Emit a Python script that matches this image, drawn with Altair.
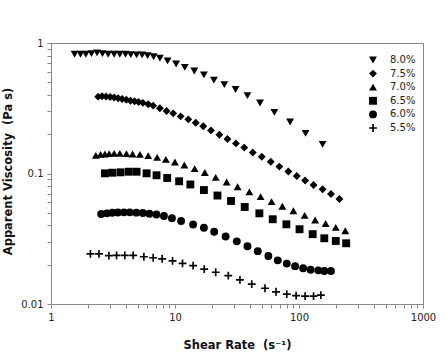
import altair as alt
import pandas as pd

# Polymer concentration series (legend order)
concentrations = ["8.0%", "7.5%", "7.0%", "6.5%", "6.0%", "5.5%"]

# Shear rate (1/s) and apparent viscosity (Pa s) for each concentration
shear_80 = [1.55, 1.73, 1.91, 2.12, 2.35, 2.60, 2.89, 3.23, 3.59, 3.99, 4.40, 4.90, 5.43, 6.01,
            6.72, 7.55, 8.71, 10.2, 12.0, 14.3, 17.1, 20.6, 25.0, 30.8, 38.4, 48.5, 63.3, 84.8,
            113, 155]
visc_80 = [0.82, 0.82, 0.82, 0.83, 0.84, 0.83, 0.82, 0.82, 0.82, 0.82, 0.815, 0.81, 0.81, 0.80,
           0.785, 0.765, 0.73, 0.69, 0.65, 0.61, 0.57, 0.52, 0.48, 0.44, 0.395, 0.347, 0.294,
           0.248, 0.203, 0.167]

shear_75 = [2.40, 2.58, 2.78, 3.00, 3.23, 3.48, 3.75, 4.05, 4.38, 4.72, 5.08, 5.50, 6.08, 6.67,
            7.55, 8.55, 9.67, 11.1, 12.8, 14.7, 16.9, 19.5, 22.8, 26.5, 31.0, 36.2, 42.4, 50.1,
            59.2, 69.4, 82.1, 96.0, 112, 131, 155, 181, 212]
visc_75 = [0.388, 0.391, 0.389, 0.386, 0.382, 0.377, 0.372, 0.367, 0.361, 0.358, 0.353, 0.348,
           0.339, 0.331, 0.316, 0.301, 0.289, 0.274, 0.260, 0.245, 0.230, 0.214, 0.198, 0.184,
           0.170, 0.158, 0.145, 0.1345, 0.123, 0.113, 0.1036, 0.0957, 0.0884, 0.0817, 0.0757,
           0.0697, 0.0638]

shear_70 = [2.30, 2.51, 2.72, 2.94, 3.23, 3.59, 4.06, 4.55, 5.21, 6.08, 7.18, 8.44, 9.98, 11.9,
            14.4, 17.4, 21.3, 26.1, 32.0, 39.8, 49.0, 60.1, 73.4, 90.1, 111, 135, 164, 198, 236]
visc_70 = [0.1378, 0.1403, 0.1410, 0.1418, 0.1428, 0.1428, 0.1418, 0.1410, 0.1403, 0.1369,
           0.1331, 0.1285, 0.1225, 0.1162, 0.1089, 0.1018, 0.0935, 0.0861, 0.0792, 0.0722,
           0.0664, 0.0608, 0.0561, 0.0518, 0.0477, 0.0440, 0.0414, 0.0386, 0.0364]

shear_65 = [2.72, 3.13, 3.64, 4.24, 4.90, 5.90, 7.10, 8.65, 10.8, 13.3, 17.1, 22.0, 28.3, 36.5,
            47.9, 61.4, 79.1, 101, 129, 160, 198, 240]
visc_65 = [0.1003, 0.1014, 0.1021, 0.1032, 0.1032, 0.1003, 0.0969, 0.0924, 0.0872, 0.0824,
           0.0747, 0.0678, 0.0616, 0.0554, 0.0495, 0.0446, 0.0408, 0.0374, 0.0343, 0.0319,
           0.0304, 0.0292]

shear_60 = [2.54, 2.82, 3.12, 3.46, 3.87, 4.32, 4.88, 5.50, 6.21, 7.08, 8.14, 9.44, 11.2, 14.0,
            17.1, 20.7, 25.6, 31.5, 38.4, 46.5, 56.6, 67.4, 79.7, 93.0, 108, 124, 143, 160, 181]
visc_60 = [0.0489, 0.0495, 0.0500, 0.0502, 0.0504, 0.0504, 0.0501, 0.0498, 0.0492, 0.0485,
           0.0472, 0.0454, 0.0433, 0.0407, 0.0384, 0.0358, 0.0329, 0.0302, 0.0277, 0.0254,
           0.0233, 0.0216, 0.0204, 0.0195, 0.0188, 0.0183, 0.0181, 0.0179, 0.0179]

shear_55 = [2.08, 2.44, 2.93, 3.38, 3.94, 4.60, 5.61, 6.67, 7.88, 9.56, 11.5, 14.0, 17.2, 21.3,
            26.9, 33.4, 41.6, 53.2, 65.3, 79.7, 94.8, 112, 131, 150]
visc_55 = [0.0242, 0.0242, 0.0235, 0.0236, 0.0236, 0.0236, 0.0230, 0.0226, 0.0222, 0.0214,
           0.0205, 0.0197, 0.0185, 0.0175, 0.0165, 0.0153, 0.0142, 0.0132, 0.0124, 0.0119,
           0.0116, 0.0115, 0.0115, 0.0117]

# Log-axis tick positions (major + minor) and their labels
x_ticks = [1, 2, 3, 4, 5, 6, 7, 8, 9,
           10, 20, 30, 40, 50, 60, 70, 80, 90,
           100, 200, 300, 400, 500, 600, 700, 800, 900, 1000]
y_ticks = [0.01, 0.02, 0.03, 0.04, 0.05, 0.06, 0.07, 0.08, 0.09,
           0.1, 0.2, 0.3, 0.4, 0.5, 0.6, 0.7, 0.8, 0.9, 1]

rows = []
for conc, xs, ys in zip(concentrations,
                        [shear_80, shear_75, shear_70, shear_65, shear_60, shear_55],
                        [visc_80, visc_75, visc_70, visc_65, visc_60, visc_55]):
    for rate, visc in zip(xs, ys):
        rows.append({"rate": rate, "visc": visc, "conc": conc})
df = pd.DataFrame(rows)

# Marker per series; the last one is a thin filled plus outline
plus_path = "M-1,-0.21H-0.21V-1H0.21V-0.21H1V0.21H0.21V1H-0.21V0.21H-1Z"
shapes = ["triangle-down", "diamond", "triangle-up", "square", "circle", plus_path]

font = "DejaVu Sans"

chart = alt.Chart(df).mark_point(
    filled=True, color="black", opacity=1, size=62
).encode(
    x=alt.X(
        "rate:Q",
        scale=alt.Scale(type="log", domain=[1, 1000]),
        axis=alt.Axis(
            values=x_ticks,
            labelExpr="datum.value == 1 ? '1' : datum.value == 10 ? '10' : datum.value == 100 ? '100' : datum.value == 1000 ? '1000' : ''",
            title="Shear Rate\u00a0 (s\u207b\u00b9)",
            titleFontWeight="bold", titleFontSize=11.5, titleFont=font,
            titleBaseline="alphabetic", titleY=44,
            labelFlush=False, labelOverlap=False, labelPadding=4,
        ),
    ),
    y=alt.Y(
        "visc:Q",
        scale=alt.Scale(type="log", domain=[0.01, 1]),
        axis=alt.Axis(
            values=y_ticks,
            labelExpr="datum.value == 1 ? '1' : datum.value == 0.1 ? '0.1' : datum.value == 0.01 ? '0.01' : ''",
            title="Apparent Viscosity\u00a0 (Pa s)",
            titleFontWeight="bold", titleFontSize=11.5, titleFont=font,
            titleAngle=270, titleBaseline="middle", titleAlign="center",
            titleX=-43, titleY=128,
            labelFlush=False, labelOverlap=False, labelPadding=4,
        ),
    ),
    shape=alt.Shape(
        "conc:N",
        scale=alt.Scale(domain=concentrations, range=shapes),
        legend=alt.Legend(
            title=None, orient="none", legendX=317, legendY=12,
            labelFont=font, labelFontSize=10, labelColor="#222",
            symbolFillColor="black", symbolSize=62, symbolOpacity=1,
            symbolStrokeWidth=0,
            rowPadding=3.6, labelOffset=12, padding=0,
        ),
    ),
).properties(
    width=372,
    height=261,
    autosize=alt.AutoSizeParams(type="none"),
    padding={"left": 51, "top": 43, "right": 22, "bottom": 60},
).configure_view(
    stroke="#888", strokeWidth=1
).configure_axis(
    grid=False, domainColor="#888", tickColor="#888", tickSize=4,
    labelFont=font, labelFontSize=10, labelColor="#222", titleColor="#111",
)

chart.save("out.html", embed_options={"renderer": "svg", "actions": False})
